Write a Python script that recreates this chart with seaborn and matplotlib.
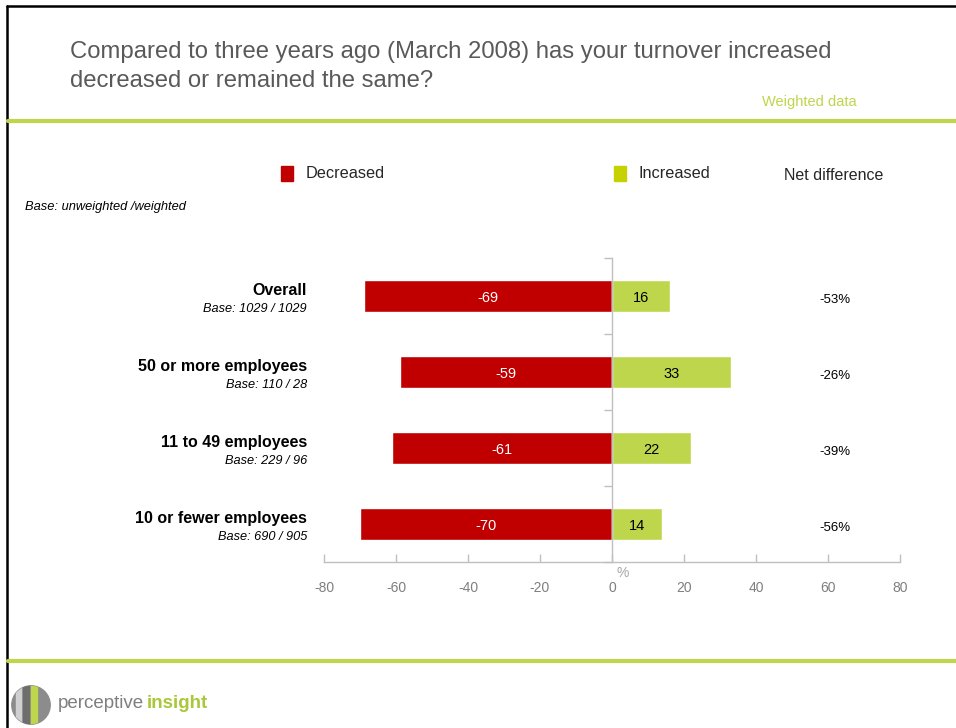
import matplotlib
matplotlib.use("Agg")
import matplotlib.pyplot as plt
import matplotlib.patches as mpatches
import matplotlib.transforms as mtransforms
from matplotlib.lines import Line2D
import seaborn as sns
import pandas as pd

# ---- data ----
groups = ["Overall", "50 or more employees", "11 to 49 employees", "10 or fewer employees"]
bases = ["Base: 1029 / 1029", "Base: 110 / 28", "Base: 229 / 96", "Base: 690 / 905"]
decreased = [-69, -59, -61, -70]
increased = [16, 33, 22, 14]
x_ticks = [-80, -60, -40, -20, 0, 20, 40, 60, 80]

RED = "#C00000"
GREEN = "#BDD64B"
LEGEND_GREEN = "#C6D200"
LINE_GREEN = "#BDD64B"
GREY_TXT = "#595959"
AXIS_GREY = "#BFBFBF"

df = pd.DataFrame({"group": groups, "decreased": decreased, "increased": increased})

sns.set_theme(style="white")
plt.rcParams["font.family"] = ["Liberation Sans", "DejaVu Sans"]

W, H = 956, 728
fig = plt.figure(figsize=(W / 100, H / 100), dpi=100)


def fx(px):
    return px / W


def fy(py):
    return 1 - py / H


# plot area
ax = fig.add_axes([fx(324), fy(562), fx(900) - fx(324), (562 - 258) / H])
sns.barplot(data=df, x="decreased", y="group", orient="h", color=RED,
            width=0.41, saturation=1, ax=ax)
sns.barplot(data=df, x="increased", y="group", orient="h", color=GREEN,
            width=0.41, saturation=1, ax=ax)

ax.set_xlim(-80, 80)
ax.set_ylim(3.5, -0.5)
ax.set_xlabel("")
ax.set_ylabel("")
ax.set_xticks(x_ticks)
ax.set_xticklabels([str(t) for t in x_ticks])
ax.tick_params(axis="x", direction="in", length=6, width=1, color=AXIS_GREY,
               labelcolor="#7F7F7F", labelsize=10, pad=14, bottom=True)
ax.set_yticks([-0.5, 0.5, 1.5, 2.5, 3.5])
ax.set_yticklabels([])
ax.tick_params(axis="y", direction="out", length=6, width=1, color=AXIS_GREY, left=True)
for s in ["top", "right"]:
    ax.spines[s].set_visible(False)
ax.spines["left"].set_position(("data", 0))
ax.spines["left"].set_color(AXIS_GREY)
ax.spines["bottom"].set_color(AXIS_GREY)
ax.spines["left"].set_linewidth(1)
ax.spines["bottom"].set_linewidth(1)
ax.text(3, 3.64, "%", color="#A6A6A6", fontsize=10, ha="center", va="center", clip_on=False)

# value labels inside bars
for i, (d, inc) in enumerate(zip(decreased, increased)):
    ax.text(d / 2, i + 0.02, str(d), color="white", ha="center", va="center", fontsize=10.5)
    ax.text(inc / 2, i + 0.02, str(inc), color="black", ha="center", va="center", fontsize=10.5)

# category names and bases left of the plot; net difference on the right
lab_tr = mtransforms.blended_transform_factory(fig.transFigure, ax.transData)
for i, (g, b, d, inc) in enumerate(zip(groups, bases, decreased, increased)):
    ax.text(fx(307), i - 0.07, g, transform=lab_tr, ha="right", va="center",
            fontsize=11.5, fontweight="bold", color="black", clip_on=False)
    ax.text(fx(307), i + 0.17, b, transform=lab_tr, ha="right", va="center",
            fontsize=9.2, fontstyle="italic", color="black", clip_on=False)
    ax.text(fx(835), i + 0.05, f"{d + inc}%", transform=lab_tr, ha="center",
            va="center", fontsize=9.5, color="black", clip_on=False)

# legend row
fig.patches.append(mpatches.Rectangle((fx(281), fy(181)), fx(12), 15 / H,
                                      transform=fig.transFigure, color=RED))
fig.text(fx(306), fy(174), "Decreased", fontsize=11.7, color="#262626", va="center")
fig.patches.append(mpatches.Rectangle((fx(614), fy(181)), fx(12), 15 / H,
                                      transform=fig.transFigure, color=LEGEND_GREEN))
fig.text(fx(639), fy(173), "Increased", fontsize=11.7, color="#262626", va="center")
fig.text(fx(784), fy(175), "Net difference", fontsize=11.5, color="#262626", va="center")

fig.text(fx(25), fy(207), "Base: unweighted /weighted", fontsize=9.3,
         fontstyle="italic", color="black", va="center")

# header
fig.text(fx(70), fy(52), "Compared to three years ago (March 2008) has your turnover increased",
         fontsize=17.2, color=GREY_TXT, va="center")
fig.text(fx(70), fy(81), "decreased or remained the same?", fontsize=17.2,
         color=GREY_TXT, va="center")
fig.text(fx(762), fy(102), "Weighted data", fontsize=10.5, color=LINE_GREEN, va="center")

# page frame and divider rules
fig.lines.append(Line2D([fx(7), 1], [fy(6), fy(6)], transform=fig.transFigure,
                        color="black", lw=1.8))
fig.lines.append(Line2D([fx(7), fx(7)], [fy(6), 0], transform=fig.transFigure,
                        color="black", lw=1.8))
fig.lines.append(Line2D([fx(8), 1], [fy(121), fy(121)], transform=fig.transFigure,
                        color=LINE_GREEN, lw=3))
fig.lines.append(Line2D([fx(8), 1], [fy(661), fy(661)], transform=fig.transFigure,
                        color=LINE_GREEN, lw=3))

# logo mark
logo = fig.add_axes([fx(11), fy(726), fx(40), 42 / H])
logo.set_xlim(0, 1)
logo.set_ylim(0, 1)
logo.set_aspect("equal")
logo.axis("off")
circ = mpatches.Circle((0.5, 0.5), 0.48, color="#8C8C8C")
logo.add_patch(circ)
for x0, w, c in [(0.12, 0.12, "#D0D0D0"), (0.3, 0.14, "#6E6E6E"), (0.5, 0.16, "#BDD64B")]:
    r = mpatches.Rectangle((x0, 0.02), w, 0.96, color=c)
    logo.add_patch(r)
    r.set_clip_path(circ)
fig.text(fx(58), fy(704), "perceptive", fontsize=13.5, color="#7F7F7F", va="center")
fig.text(fx(147), fy(704), "insight", fontsize=13.5, color="#A8C83A",
         fontweight="bold", va="center")

fig.savefig("out.png", dpi=100)
